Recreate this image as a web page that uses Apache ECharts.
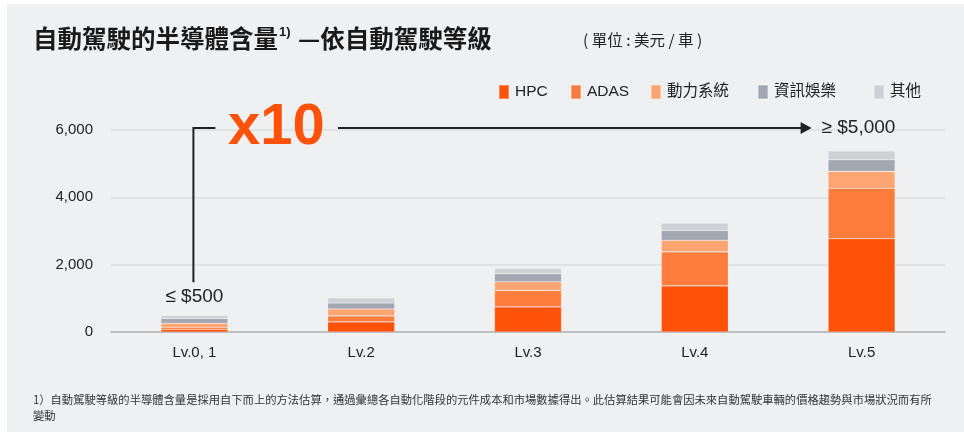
<!DOCTYPE html>
<html><head><meta charset="utf-8">
<script src="https://cdn.jsdelivr.net/npm/echarts@6/dist/echarts.min.js"></script>
<style>html,body{margin:0;padding:0;background:#fff}#c{width:964px;height:432px}</style>
</head><body><div id="c"></div>
<script>
const categories = ['Lv.0, 1', 'Lv.2', 'Lv.3', 'Lv.4', 'Lv.5'];
const hpc   = [80, 300, 745, 1370, 2770];
const adas  = [60, 178, 490, 1010, 1500];
const power = [118, 206, 257, 345, 500];
const info  = [147, 177, 236, 295, 345];
const other = [89, 148, 168, 215, 265];
const seriesNames = ['HPC', 'ADAS', '動力系統', '資訊娛樂', '其他'];
const seriesColors = ['#fe5208', '#fe7d3d', '#ffa571', '#a2a7b1', '#cdd1d6'];
const yTicks = [0, 2000, 4000, 6000];
const lowLabel = '≤ $500';
const highLabel = '≥ $5,000';
const multLabel = 'x10';

const FONT = '"Liberation Sans", Arial, "Noto Sans CJK TC", sans-serif';
const chart = echarts.init(document.getElementById('c'), null, {renderer: 'canvas'});
const values = [hpc, adas, power, info, other];

const legendLefts = [493, 565, 645, 752, 868];
const option = {
  backgroundColor: '#eff0f2',
  animation: false,
  textStyle: {fontFamily: FONT},
  grid: {left: 111, right: 19, top: 130, bottom: 100},
  legend: seriesNames.map((n, i) => ({
    data: [n], left: legendLefts[i], top: 79, itemWidth: 10, itemHeight: 14, itemGap: 0,
    icon: 'rect', selectedMode: false,
    textStyle: {fontSize: 15.5, color: '#222', fontFamily: FONT, padding: [0, 0, 0, 1]}
  })),
  xAxis: {
    type: 'category', data: categories,
    axisLine: {lineStyle: {color: '#aeb2b8', width: 1.5}},
    axisTick: {show: false},
    axisLabel: {fontSize: 15, color: '#222', margin: 13, fontFamily: FONT}
  },
  yAxis: {
    type: 'value', min: yTicks[0], max: yTicks[yTicks.length - 1], interval: 2000,
    axisLabel: {fontSize: 15, color: '#222', margin: 18, fontFamily: FONT,
      formatter: v => v.toLocaleString('en-US')},
    splitLine: {lineStyle: {color: '#dcdee2', width: 1.5}},
    axisLine: {show: false}, axisTick: {show: false}
  },
  series: seriesNames.map((n, i) => ({
    name: n, type: 'bar', stack: 'total', data: values[i], barWidth: 67,
    itemStyle: {color: seriesColors[i], borderColor: 'rgba(255,255,255,0.3)', borderWidth: 0.6},
    emphasis: {disabled: true}
  }))
};
chart.setOption(option);

function px(idx, val) { return chart.convertToPixel({xAxisIndex: 0, yAxisIndex: 0}, [idx, val]); }
const totals = categories.map((c, i) => values.reduce((s, a) => s + a[i], 0));
const lowTop = px(0, totals[0]);
const highTop = px(4, totals[4]);
const topY = px(0, yTicks[yTicks.length - 1])[1] - 2;
const lineX = lowTop[0] - 1;
const arrowStart = 338, arrowEnd = highTop[0] - 50;

chart.setOption({
  graphic: [
    {type: 'rect', left: 0, top: 0, shape: {width: 7, height: 432}, style: {fill: '#fff'}, silent: true},
    {type: 'rect', left: 0, top: 0, shape: {width: 964, height: 4}, style: {fill: '#fff'}, silent: true},
    {type: 'text', left: 33, top: 26, style: {
      text: '自動駕駛的半導體含量{s|1)} —依自動駕駛等級',
      font: 'bold 24.5px "Noto Sans CJK TC", sans-serif', fill: '#1a1a1a',
      rich: {s: {fontSize: 13, fontWeight: 'bold', verticalAlign: 'top', padding: [0, 2, 12, 1], fill: '#1a1a1a', fontFamily: FONT}}
    }},
    {type: 'text', left: 583, top: 32, style: {
      text: '( 單位 : 美元 / 車 )', font: '15.5px "Noto Sans CJK TC", sans-serif', fill: '#222'}},
    {type: 'text', x: lowTop[0], y: lowTop[1] - 19, style: {
      text: lowLabel, font: '19px ' + FONT, fill: '#222', align: 'center', verticalAlign: 'middle'}},
    {type: 'polyline', shape: {points: [[lineX, lowTop[1] - 33], [lineX, topY], [lineX + 22, topY]]},
      style: {stroke: '#222', lineWidth: 2, fill: null}},
    {type: 'text', x: 228, y: topY, style: {
      text: multLabel, font: 'bold 58px ' + FONT, fill: '#fe5208', align: 'left', verticalAlign: 'middle'}},
    {type: 'line', shape: {x1: arrowStart, y1: topY, x2: arrowEnd - 8, y2: topY},
      style: {stroke: '#222', lineWidth: 2}},
    {type: 'polygon', shape: {points: [[arrowEnd - 11, topY - 6], [arrowEnd, topY], [arrowEnd - 11, topY + 6]]},
      style: {fill: '#222'}},
    {type: 'text', x: arrowEnd + 10, y: topY, style: {
      text: highLabel, font: '19px ' + FONT, fill: '#222', align: 'left', verticalAlign: 'middle'}},
    {type: 'text', left: 33, top: 392, style: {
      text: '1）自動駕駛等級的半導體含量是採用自下而上的方法估算，通過彙總各自動化階段的元件成本和市場數據得出。此估算結果可能會因未來自動駕駛車輛的價格趨勢與市場狀況而有所\n變動',
      font: '11.3px "Noto Sans CJK TC", sans-serif', fill: '#333', lineHeight: 16}}
  ]
});
</script></body></html>
